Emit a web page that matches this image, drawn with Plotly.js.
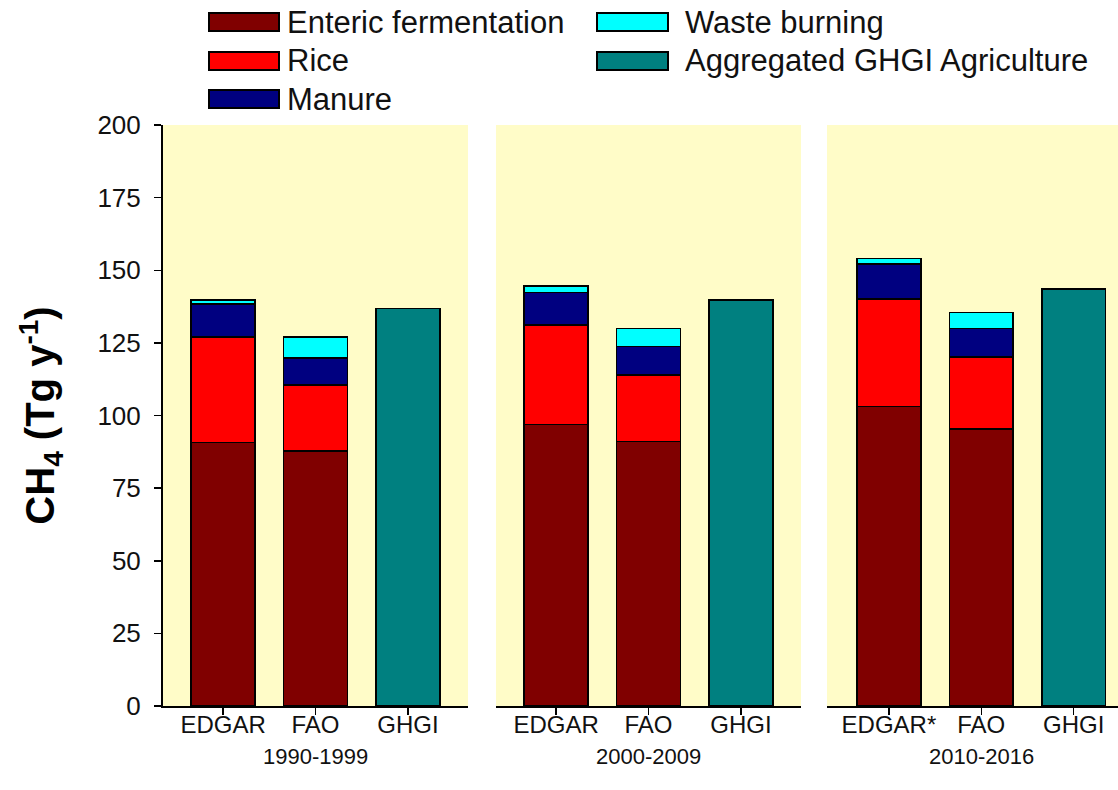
<!DOCTYPE html>
<html>
<head>
<meta charset="utf-8">
<script src="https://cdn.plot.ly/plotly-3.0.1.min.js"></script>
<style>html,body{margin:0;padding:0;background:#fff;}#chart{width:1118px;height:790px;}</style>
</head>
<body>
<div id="chart"></div>
<script>
// ---- data ----
const sources12 = ['EDGAR', 'FAO', 'GHGI'];
const sources3 = ['EDGAR*', 'FAO', 'GHGI'];
const periods = ['1990-1999', '2000-2009', '2010-2016'];
const seriesNames = ['Enteric fermentation', 'Rice', 'Manure', 'Waste burning', 'Aggregated GHGI Agriculture'];
const seriesColors = ['#800000', '#FF0000', '#000080', '#00FFFF', '#008080'];

// values per period for EDGAR and FAO (Tg/yr)
const edgarEnteric = [90.7, 96.9, 103.1];
const edgarRice    = [36.3, 34.2, 37.0];
const edgarManure  = [11.4, 11.2, 12.1];
const edgarWaste   = [1.3, 2.3, 1.8];
const faoEnteric   = [87.7, 91.1, 95.4];
const faoRice      = [22.7, 22.8, 24.8];
const faoManure    = [9.3, 9.9, 9.8];
const faoWaste     = [7.4, 6.2, 5.4];
const ghgiTotal    = [136.8, 139.7, 143.6];

const yTicks = [0, 25, 50, 75, 100, 125, 150, 175, 200];

// ---- build traces ----
const W = 1118, H = 790;
const FONT = 'Arial, "Liberation Sans", sans-serif';
const stacks = [
  [edgarEnteric, faoEnteric],
  [edgarRice, faoRice],
  [edgarManure, faoManure],
  [edgarWaste, faoWaste]
];
const axisIds = ['', '2', '3'];
const traces = [];
for (let p = 0; p < 3; p++) {
  const cats = p === 2 ? sources3 : sources12;
  for (let s = 0; s < 4; s++) {
    traces.push({
      type: 'bar',
      name: seriesNames[s],
      x: [cats[0], cats[1]],
      y: [stacks[s][0][p], stacks[s][1][p]],
      xaxis: 'x' + axisIds[p],
      yaxis: 'y',
      width: 0.69,
      marker: {color: seriesColors[s], line: {color: '#000', width: 1.6}},
      showlegend: false,
      hoverinfo: 'name+y'
    });
  }
  traces.push({
    type: 'bar',
    name: seriesNames[4],
    x: [cats[2]],
    y: [ghgiTotal[p]],
    xaxis: 'x' + axisIds[p],
    yaxis: 'y',
    width: 0.69,
    marker: {color: seriesColors[4], line: {color: '#000', width: 1.6}},
    showlegend: false,
    hoverinfo: 'name+y'
  });
}

// ---- axes ----
const px = v => v / W;
const py = v => 1 - v / H;
const yDomain = [py(706), py(125)];
function xAxis(domain, range) {
  return {
    domain: domain, range: range, type: 'category',
    showline: true, linecolor: '#000', linewidth: 2,
    ticks: 'outside', ticklen: 7, tickwidth: 1.5, tickcolor: '#000',
    ticklabelstandoff: -11,
    tickfont: {family: FONT, size: 24, color: '#111'},
    showgrid: false, zeroline: false, fixedrange: true,
    anchor: 'y'
  };
}

const annotations = periods.map((t, i) => ({
  text: t, xref: 'x' + axisIds[i], yref: 'paper',
  x: 1, y: py(756), showarrow: false,
  font: {family: FONT, size: 22, color: '#111'},
  xanchor: 'center', yanchor: 'middle'
}));

// custom legend (large swatches, two columns)
const legendPos = [
  {c: 0, r: 0}, {c: 0, r: 1}, {c: 0, r: 2}, {c: 1, r: 0}, {c: 1, r: 1}
];
const colX = [[209, 279, 285], [597, 668, 683]];
const rowY = [22, 61, 99];
const shapes = [];
legendPos.forEach((pos, i) => {
  const cx = colX[pos.c], cy = rowY[pos.r];
  shapes.push({
    type: 'rect', xref: 'paper', yref: 'paper',
    x0: px(cx[0]), x1: px(cx[1]), y0: py(cy + 9), y1: py(cy - 9),
    fillcolor: seriesColors[i], line: {color: '#000', width: 2}
  });
  annotations.push({
    text: seriesNames[i], xref: 'paper', yref: 'paper',
    x: px(cx[2]), y: py(cy), xanchor: 'left', yanchor: 'middle',
    showarrow: false, font: {family: FONT, size: 31, color: '#111'}
  });
});

const layout = {
  width: W, height: H,
  margin: {l: 0, r: 0, t: 0, b: 0},
  paper_bgcolor: '#ffffff',
  plot_bgcolor: '#FFFCC8',
  barmode: 'stack',
  showlegend: false,
  font: {family: FONT, color: '#111'},
  xaxis: xAxis([px(163), px(468)], [-0.65, 2.65]),
  xaxis2: xAxis([px(496), px(801)], [-0.65, 2.65]),
  xaxis3: xAxis([px(827), 1], [-0.67, 2.48]),
  yaxis: {
    domain: yDomain, range: [0, 200],
    tickvals: yTicks, ticktext: yTicks.map(String),
    showline: true, linecolor: '#000', linewidth: 2,
    ticks: 'outside', ticklen: 7, tickwidth: 1.5, tickcolor: '#000',
    ticklabelstandoff: 8,
    tickfont: {family: FONT, size: 26, color: '#111'},
    showgrid: false, zeroline: false, fixedrange: true,
    anchor: 'x',
    title: {
      text: '<b>CH<sub>4</sub> (Tg y<sup>-1</sup>)</b>',
      font: {family: FONT, size: 40, color: '#000'},
      standoff: 30
    }
  },
  shapes: shapes,
  annotations: annotations
};

Plotly.newPlot('chart', traces, layout, {displayModeBar: false, staticPlot: true});
</script>
</body>
</html>
